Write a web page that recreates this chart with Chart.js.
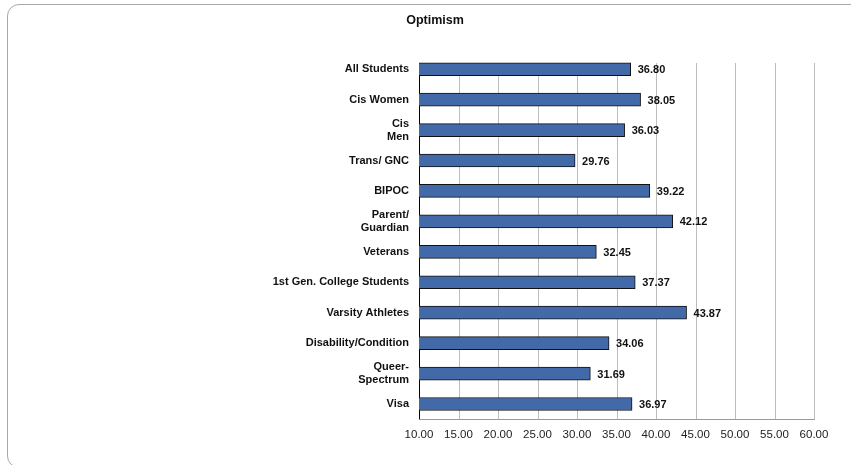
<!DOCTYPE html>
<html>
<head>
<meta charset="utf-8">
<script src="https://cdn.jsdelivr.net/npm/chart.js@4.4.1/dist/chart.umd.min.js"></script>
<style>
  html, body { margin: 0; padding: 0; background: #fff; overflow: hidden; }
  .frame {
    position: absolute; left: 7px; top: 4px; width: 900px; height: 462px;
    border: 1px solid #a8a8a8; border-radius: 12px;
  }
  .wrap { position: absolute; left: 0; top: 0; width: 851px; height: 465px; }
</style>
</head>
<body>
<div class="frame"></div>
<div class="wrap"><canvas id="optimismChart"></canvas></div>
<script>
var groupLabels = [
  "All Students", "Cis Women", ["Cis", "Men"], "Trans/ GNC", "BIPOC",
  ["Parent/", "Guardian"], "Veterans", "1st Gen. College Students",
  "Varsity Athletes", "Disability/Condition", ["Queer-", "Spectrum"], "Visa"
];
var optimismScores = [36.80, 38.05, 36.03, 29.76, 39.22, 42.12, 32.45, 37.37, 43.87, 34.06, 31.69, 36.97];
var axisMin = 10;
var axisMax = 60;
var axisStep = 5;

var BAR_THICKNESS = 13;

// grid + left axis, starting at the top of the first bar
var gridPlugin = {
  id: "gridLines",
  beforeDatasetsDraw: function (chart) {
    var ctx = chart.ctx;
    var x = chart.scales.x, y = chart.scales.y;
    var top = Math.round(y.getPixelForValue(0) - BAR_THICKNESS / 2);
    var bottom = chart.chartArea.bottom;
    ctx.save();
    ctx.lineWidth = 1;
    x.ticks.forEach(function (t) {
      var px = Math.round(x.getPixelForValue(t.value)) + 0.5;
      ctx.strokeStyle = t.value === axisMin ? "#000" : "#bdbdbd";
      ctx.beginPath();
      ctx.moveTo(px, top);
      ctx.lineTo(px, bottom);
      ctx.stroke();
    });
    ctx.restore();
  }
};

// value printed after each bar
var valuePlugin = {
  id: "barValues",
  afterDatasetsDraw: function (chart) {
    var ctx = chart.ctx;
    var meta = chart.getDatasetMeta(0);
    ctx.save();
    ctx.font = "bold 11px 'Liberation Sans', Arial, sans-serif";
    ctx.fillStyle = "#111";
    ctx.textAlign = "left";
    ctx.textBaseline = "middle";
    meta.data.forEach(function (bar, i) {
      ctx.fillText(optimismScores[i].toFixed(2), bar.x + 7, bar.y + 1);
    });
    ctx.restore();
  }
};

new Chart(document.getElementById("optimismChart"), {
  type: "bar",
  plugins: [gridPlugin, valuePlugin],
  data: {
    labels: groupLabels,
    datasets: [{
      label: "Optimism",
      data: optimismScores,
      backgroundColor: "#4269a8",
      borderColor: "#111",
      borderWidth: 1,
      barThickness: BAR_THICKNESS,
      borderSkipped: false
    }]
  },
  options: {
    indexAxis: "y",
    responsive: true,
    maintainAspectRatio: false,
    animation: false,
    layout: { padding: { left: 56, right: 37, top: 12, bottom: 14 } },
    plugins: {
      legend: { display: false },
      tooltip: { enabled: false },
      title: {
        display: true,
        text: "Optimism",
        color: "#111",
        font: { family: "'Liberation Sans', Arial, sans-serif", size: 12.5, weight: "bold" },
        padding: { top: 1, bottom: 26 }
      }
    },
    scales: {
      x: {
        min: axisMin,
        max: axisMax,
        ticks: {
          stepSize: axisStep,
          color: "#222",
          padding: 9,
          font: { family: "'Liberation Sans', Arial, sans-serif", size: 11.5 },
          callback: function (v) { return Number(v).toFixed(2); }
        },
        grid: { display: false, drawTicks: false },
        border: { display: true, color: "#999", width: 1 }
      },
      y: {
        afterFit: function (s) { s.width = 363; },
        ticks: {
          color: "#111",
          padding: 10,
          font: { family: "'Liberation Sans', Arial, sans-serif", size: 11, weight: "bold", lineHeight: 1.2 }
        },
        grid: { display: false, drawTicks: false },
        border: { display: false }
      }
    }
  }
});
</script>
</body>
</html>
